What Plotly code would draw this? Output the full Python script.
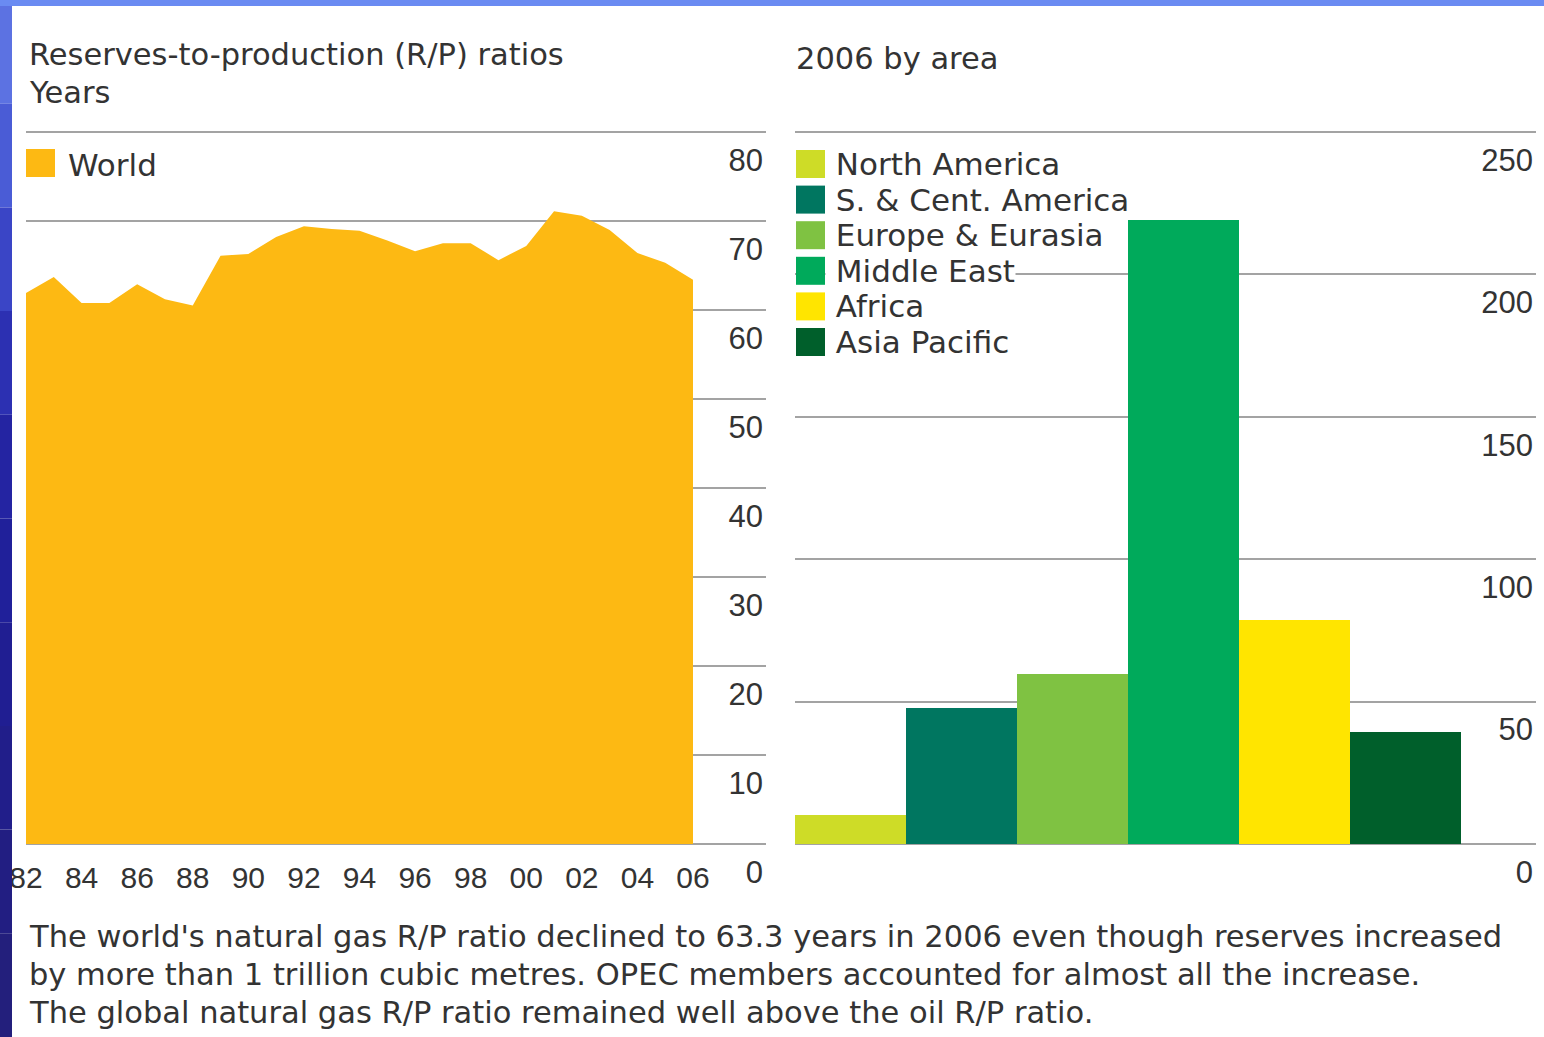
import plotly.graph_objects as go

# Datos: ratio R/P mundial (años)
years = list(range(1982, 2007))
world_rp = [61.9, 63.7, 60.8, 60.8, 62.9, 61.2, 60.5, 66.1, 66.3, 68.2, 69.4, 69.1, 68.9,
            67.8, 66.6, 67.5, 67.5, 65.6, 67.2, 71.1, 70.6, 69.0, 66.4, 65.3, 63.4]
year_ticks = list(range(1982, 2007, 2))
year_labels = [str(y)[2:] for y in year_ticks]
left_ticks = [0, 10, 20, 30, 40, 50, 60, 70, 80]

# Datos: 2006 por área
areas = ['North America', 'S. & Cent. America', 'Europe & Eurasia',
         'Middle East', 'Africa', 'Asia Pacific']
area_rp = [10.2, 47.8, 59.7, 219.1, 78.7, 39.3]
area_colors = ['#CEDC27', '#007660', '#7FC242', '#00AA5B', '#FFE500', '#005F2B']
right_ticks = [0, 50, 100, 150, 200, 250]

W, H = 1544, 1037
def px(x):
    return x / W
def py(y):
    return 1 - y / H

TEXT = '#333333'
GRID = '#A3A3A3'
TITLE_FONT = 'DejaVu Sans'
TICK_FONT = 'Liberation Sans'

fig = go.Figure()

# Área mundial
fig.add_trace(go.Scatter(
    x=years, y=world_rp, mode='lines', fill='tozeroy',
    line=dict(width=0, color='#FDB913'), fillcolor='#FDB913',
    xaxis='x', yaxis='y', showlegend=False
))

# Barras por área
fig.add_trace(go.Bar(
    x=areas, y=area_rp, marker=dict(color=area_colors, line=dict(width=0)),
    xaxis='x2', yaxis='y2', showlegend=False
))

axis_common = dict(showline=False, zeroline=False, ticks='', automargin=False)
yr_per_px = 24 / (693 - 26)
pad = 3  # px extra para que se vean las líneas en los extremos
fig.update_layout(
    width=W, height=H,
    margin=dict(l=0, r=0, t=0, b=0, autoexpand=False),
    paper_bgcolor='white', plot_bgcolor='white',
    bargap=0,
    xaxis=dict(domain=[px(26), px(766)], range=[1982, 1982 + (766 - 26) * yr_per_px],
               tickvals=year_ticks, ticktext=year_labels, showgrid=False,
               ticklabelstandoff=13 - pad,
               tickfont=dict(family=TICK_FONT, size=30, color=TEXT), **axis_common),
    yaxis=dict(domain=[py(844 + pad), py(132 - pad)],
               range=[-pad * 80 / 712, 80 + pad * 80 / 712], side='right',
               tickvals=left_ticks, ticklabelposition='inside', ticklabeloverflow='allow',
               ticklabelshift=28, gridcolor=GRID, gridwidth=2,
               tickfont=dict(family=TICK_FONT, size=31, color=TEXT), **axis_common),
    xaxis2=dict(domain=[px(795), px(1536)], range=[-0.5, -0.5 + (1536 - 795) / 111],
                showticklabels=False, showgrid=False, **axis_common),
    yaxis2=dict(domain=[py(844 + pad), py(132 - pad)],
                range=[-pad * 250 / 712, 250 + pad * 250 / 712], side='right', anchor='x2',
                tickvals=right_ticks, ticklabelposition='inside', ticklabeloverflow='allow',
                ticklabelshift=28, gridcolor=GRID, gridwidth=2,
                tickfont=dict(family=TICK_FONT, size=31, color=TEXT), **axis_common),
)

shapes = []
# Borde azul (izquierda y arriba)
strip_cols = ['#5C72E2', '#4A5CD6', '#3A45C6', '#2C30B2', '#2424A2', '#20209A',
              '#201E92', '#211E8A', '#221E82', '#231F7C']
n = len(strip_cols)
for i, c in enumerate(strip_cols):
    shapes.append(dict(type='rect', xref='paper', yref='paper', x0=0, x1=px(12),
                       y0=1 - (i + 1) / n, y1=1 - i / n, fillcolor=c, line=dict(width=0),
                       layer='above'))
shapes.append(dict(type='rect', xref='paper', yref='paper', x0=0, x1=1, y0=py(6), y1=1,
                   fillcolor='#6A8BF2', line=dict(width=0), layer='above'))

annotations = []
def text(x, y, s, size=30.5, anchor='left', bg=None, family=TITLE_FONT):
    a = dict(x=px(x), y=py(y), xref='paper', yref='paper', text=s, showarrow=False,
             xanchor=anchor, yanchor='middle', align='left',
             font=dict(family=family, size=size, color=TEXT))
    if bg:
        a.update(bgcolor=bg, borderpad=0)
    annotations.append(a)

text(27, 55, 'Reserves-to-production (R/P) ratios')
text(27, 92, 'Years')
text(794, 58, '2006 by area')

# Leyenda izquierda
shapes.append(dict(type='rect', xref='paper', yref='paper', x0=px(26), x1=px(55),
                   y0=py(177), y1=py(149), fillcolor='#FDB913', line=dict(width=0)))
text(66, 165, 'World', size=31)

# Leyenda derecha (espacio duro delante para tapar la cuadrícula)
for i, (name, col) in enumerate(zip(areas, area_colors)):
    yc = 164 + i * 35.6
    shapes.append(dict(type='rect', xref='paper', yref='paper', x0=px(796), x1=px(825),
                       y0=py(yc + 14), y1=py(yc - 14), fillcolor=col, line=dict(width=0)))
    text(825, yc, '\u00a0' + name, size=31, bg='white')

# Texto inferior
caption = [
    "The world's natural gas R/P ratio declined to 63.3 years in 2006 even though reserves increased",
    "by more than 1 trillion cubic metres. OPEC members accounted for almost all the increase.",
    "The global natural gas R/P ratio remained well above the oil R/P ratio.",
]
for i, line in enumerate(caption):
    text(27, 936 + i * 38, line)

fig.update_layout(shapes=shapes, annotations=annotations)

fig.write_html("out.html", config={'displayModeBar': False},
               post_script="document.body.style.margin='0';")
